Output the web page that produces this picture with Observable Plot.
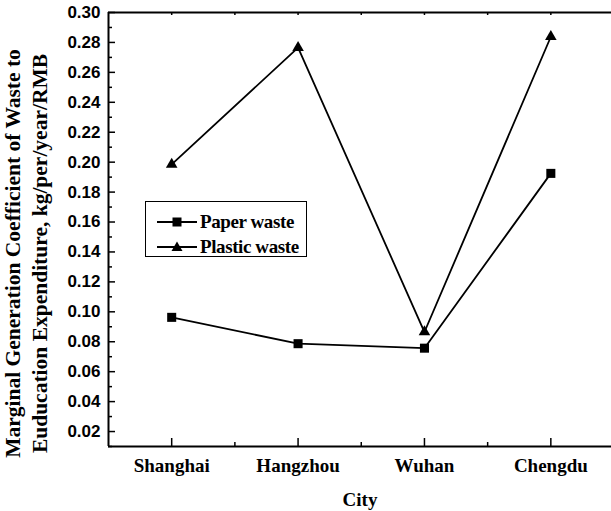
<!DOCTYPE html>
<html>
<head>
<meta charset="utf-8">
<script src="https://cdn.jsdelivr.net/npm/d3@7"></script>
<script src="https://cdn.jsdelivr.net/npm/@observablehq/plot@0.6"></script>
<style>
  html, body { margin: 0; padding: 0; background: #fff; overflow: hidden; }
  #wrap { position: relative; width: 611px; height: 511px; overflow: hidden; background: #fff; }
  #wrap > svg { display: block; }
  #legend { position: absolute; left: 145px; top: 201px; width: 160px; height: 54px;
    border: 1.3px solid #000; background: #fff; font-family: "Liberation Serif", serif;
    font-weight: bold; font-size: 19px; letter-spacing: -0.4px; }
  .row { position: absolute; left: 0; height: 24px; display: flex; align-items: center; }
  .row svg { margin-left: 11px; }
  .row span { margin-left: 3px; }
</style>
</head>
<body>
<div id="wrap"></div>
<script>
const cities = ["Shanghai", "Hangzhou", "Wuhan", "Chengdu"];
const paper = [0.0963, 0.0787, 0.0757, 0.1925];
const plastic = [0.1985, 0.2765, 0.0865, 0.2838];
const seriesNames = ["Paper waste", "Plastic waste"];
const yMajor = [0.02,0.04,0.06,0.08,0.10,0.12,0.14,0.16,0.18,0.20,0.22,0.24,0.26,0.28,0.30];
const yMinor = [0.01,0.03,0.05,0.07,0.09,0.11,0.13,0.15,0.17,0.19,0.21,0.23,0.25,0.27,0.29];
const xMajor = [1, 2, 3, 4];
const xMinor = [1.5, 2.5, 3.5];
const xDomain = [0.5, 4.48];
const yDomain = [0.01, 0.30];
const yTitle1 = "Marginal Generation Coefficient of Waste to";
const yTitle2 = "Euducation Expenditure, kg/per/year/RMB";
const xTitle = "City";

const paperData = cities.map((c, i) => ({x: i + 1, value: paper[i]}));
const plasticData = cities.map((c, i) => ({x: i + 1, value: plastic[i]}));

const serif = "'Liberation Serif', 'Times New Roman', serif";
const sans = "'Liberation Sans', Arial, sans-serif";

const W = 611, H = 511, mL = 108, mR = 0, mT = 12, mB = 65;
const fw = W - mL - mR, fh = H - mT - mB;

const chart = Plot.plot({
  width: W,
  height: H,
  marginLeft: mL,
  marginRight: mR,
  marginTop: mT,
  marginBottom: mB,
  x: {domain: xDomain},
  y: {domain: yDomain},
  axis: null,
  style: {background: "#fff", color: "#000"},
  marks: [
    Plot.tickY(yMajor, {y: d => d, insetRight: fw - 7, strokeWidth: 1.5, stroke: "#000"}),
    Plot.tickY(yMinor, {y: d => d, insetRight: fw - 4, strokeWidth: 1.5, stroke: "#000"}),
    Plot.tickX(xMajor, {x: d => d, insetTop: fh - 8, strokeWidth: 1.5, stroke: "#000"}),
    Plot.tickX(xMinor, {x: d => d, insetTop: fh - 4, strokeWidth: 1.5, stroke: "#000"}),
    Plot.tickX(xMajor.concat(xMinor), {x: d => d, insetBottom: fh - 3, strokeWidth: 1.5, stroke: "#000"}),
    Plot.axisY({ticks: yMajor, tickSize: 0, tickPadding: 8, tickFormat: d3.format(".2f"), label: null,
      fontSize: 17, fontWeight: "bold", fontFamily: sans}),
    Plot.axisX({ticks: xMajor, tickSize: 0, tickPadding: 12, tickFormat: d => cities[d - 1], label: null,
      fontSize: 19, fontWeight: "bold", fontFamily: serif, style: "letter-spacing:-0.6px"}),
    Plot.ruleX([xDomain[0]], {strokeWidth: 2, stroke: "#000"}),
    Plot.ruleY(yDomain, {strokeWidth: 2, stroke: "#000"}),
    Plot.line(paperData, {x: "x", y: "value", stroke: "#000", strokeWidth: 1.8}),
    Plot.line(plasticData, {x: "x", y: "value", stroke: "#000", strokeWidth: 1.8}),
    Plot.dot(paperData, {x: "x", y: "value", symbol: "square", r: 5.1, fill: "#000", stroke: null}),
    Plot.dot(plasticData, {x: "x", y: "value", symbol: "triangle", r: 4.3, fill: "#000", stroke: null}),
    Plot.text([yTitle1], {frameAnchor: "left", textAnchor: "middle", text: d => d, rotate: -90, dx: -95, dy: 24,
      fontSize: 21.5, fontWeight: "bold", fontFamily: serif}),
    Plot.text([yTitle2], {frameAnchor: "left", textAnchor: "middle", text: d => d, rotate: -90, dx: -68, dy: 24,
      fontSize: 21.5, fontWeight: "bold", fontFamily: serif}),
    Plot.text([xTitle], {frameAnchor: "bottom", text: d => d, dy: 46, lineAnchor: "top",
      fontSize: 19, fontWeight: "bold", fontFamily: serif, style: "letter-spacing:-0.6px"})
  ]
});

const wrap = document.getElementById("wrap");
wrap.appendChild(chart);

const legend = document.createElement("div");
legend.id = "legend";
const symbols = ["square", "triangle"];
seriesNames.forEach((name, i) => {
  const row = document.createElement("div");
  row.className = "row";
  row.style.top = (8 + i * 25) + "px";
  const sym = symbols[i] === "square"
    ? '<rect x="15.5" y="7.5" width="9" height="9" fill="#000"/>'
    : '<path d="M20,6.5 L25.5,16 L14.5,16 Z" fill="#000"/>';
  row.innerHTML = `<svg width="40" height="24"><line x1="0" x2="40" y1="12" y2="12" stroke="#000" stroke-width="2"/>${sym}</svg><span>${name}</span>`;
  legend.appendChild(row);
});
wrap.appendChild(legend);
</script>
</body>
</html>
